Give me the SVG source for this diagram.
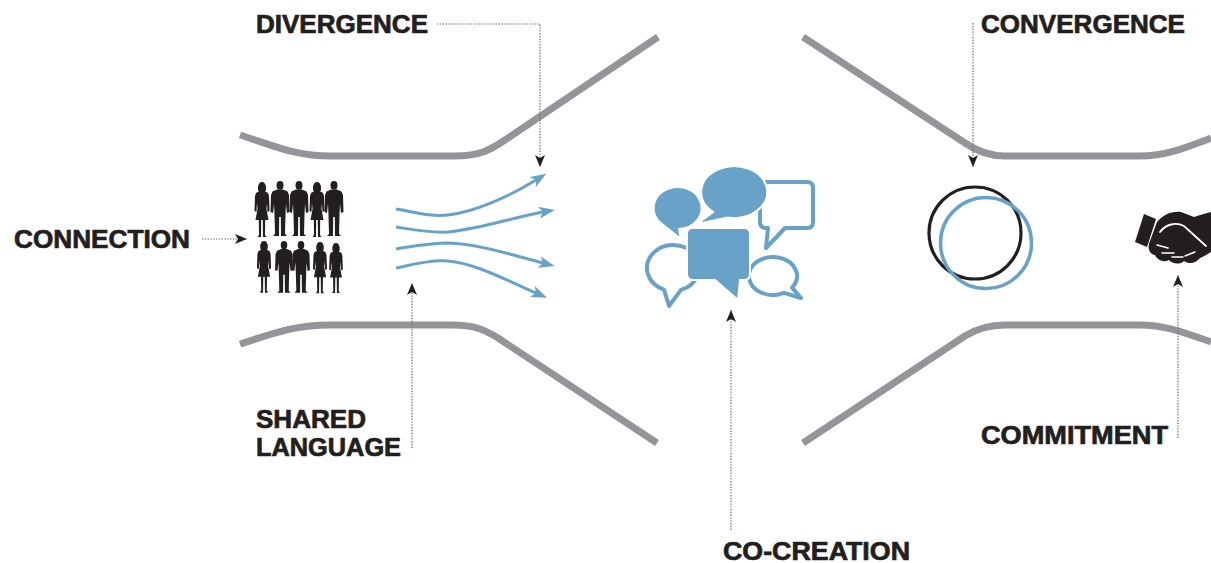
<svg xmlns="http://www.w3.org/2000/svg" width="1211" height="563" viewBox="0 0 1211 563" xmlns:xlink="http://www.w3.org/1999/xlink">
<style>
.funnel{fill:none;stroke:#939598;stroke-width:7;stroke-linejoin:round}
.lbl{font-family:"Liberation Sans",Arial,sans-serif;font-weight:bold;font-size:25px;fill:#231f20;stroke:#231f20;stroke-width:0.7}
.dot{fill:none;stroke:#6d6e71;stroke-width:1.2;stroke-dasharray:1.4 1.4}
.flow{fill:none;stroke:#69a2c9;stroke-width:3}
.bfill{fill:#69a2c9;stroke:#fff;stroke-width:2}
.bline{fill:#fff;stroke:#69a2c9;stroke-width:4;stroke-linejoin:round}
.ppl{fill:#231f20}
</style>
<defs>
<marker id="ah" viewBox="0 0 12 10" refX="12" refY="5" markerWidth="12" markerHeight="10" orient="auto" markerUnits="userSpaceOnUse">
<path d="M0,0 L12,5 L0,10 L3,5 Z" fill="#231f20"/>
</marker>
<marker id="bh" viewBox="0 0 16 12" refX="4" refY="6" markerWidth="16" markerHeight="12" orient="auto" markerUnits="userSpaceOnUse">
<path d="M0,0 L16,6 L0,12 L4,6 Z" fill="#69a2c9"/>
</marker>
<g id="man">
<ellipse cx="0" cy="4.4" rx="3.5" ry="4.4"/>
<path d="M-3,8.5 L3,8.5 L7.5,10.5 L9,14 L9.5,31 L7,32 L6,23 L5.5,34 L5,53 L7,55 L1,55 L0.8,36 L-0.8,36 L-1,55 L-7,55 L-5,53 L-5.5,34 L-6,23 L-7,32 L-9.5,31 L-9,14 L-7.5,10.5 Z"/>
</g>
<g id="woman">
<ellipse cx="0" cy="4.6" rx="3.5" ry="4.5"/>
<path d="M-3.5,3 C-4.5,7 -4,10 -2,10 L2,10 C4,10 4.5,7 3.5,3 Z"/>
<path d="M-2.5,9 L2.5,9 L6,11 L7,14 L7.5,29 L5.5,30 L5,21 L4.5,27 L6.5,38 L3.2,38 L3,53 L4.5,55 L1,55 L0.8,38 L-0.8,38 L-1,55 L-4.5,55 L-3,53 L-3.2,38 L-6.5,38 L-4.5,27 L-5,21 L-5.5,30 L-7.5,29 L-7,14 L-6,11 Z"/>
</g>
</defs>
<rect width="1211" height="563" fill="#fff"/>

<g id="funnel">
<path class="funnel" d="M240,135 C275,146 295,156 330,156 L455,156 C480,156 490,150 505,140 L658,37"/>
<path class="funnel" d="M240,344 C275,333 295,325 330,325 L452,325 C475,325 485,330 498,338 L657,443"/>
<path class="funnel" d="M803,37 L965,143 C978,152 990,156 1005,156 L1140,156 C1165,156 1185,148 1211,138"/>
<path class="funnel" d="M803,443 L965,336 C978,328 990,325 1005,325 L1140,325 C1165,325 1185,333 1211,342"/>
</g>

<g id="people" class="ppl">
<use xlink:href="#woman" href="#woman" x="262" y="182"/>
<use xlink:href="#man" href="#man" x="280" y="181"/>
<use xlink:href="#man" href="#man" x="299" y="181"/>
<use xlink:href="#woman" href="#woman" x="317" y="182"/>
<use xlink:href="#man" href="#man" x="334" y="181"/>
<use xlink:href="#woman" href="#woman" transform="translate(264,241) scale(0.94)"/>
<use xlink:href="#man" href="#man" transform="translate(284,241) scale(0.94)"/>
<use xlink:href="#man" href="#man" transform="translate(301,241) scale(0.94)"/>
<use xlink:href="#woman" href="#woman" transform="translate(320,242) scale(0.93)"/>
<use xlink:href="#woman" href="#woman" transform="translate(336,243) scale(0.91)"/>
</g>

<g id="shared-language-arrows">
<path class="flow" marker-end="url(#bh)" d="M396,209 C415,212 430,217 448,215 C475,212 510,196 536,180"/>
<path class="flow" marker-end="url(#bh)" d="M396,227 C415,230 430,233 448,232 C480,229 515,217 543,212"/>
<path class="flow" marker-end="url(#bh)" d="M396,249 C415,246 430,243 448,243 C480,244 515,256 543,263"/>
<path class="flow" marker-end="url(#bh)" d="M396,268 C415,264 430,260 448,261 C475,263 510,282 536,293"/>
</g>

<g id="speech-bubbles">
<path class="bline" d="M681,289.9 A26,23 0 1 0 664,289.6 L669,306 Z"/>
<path class="bline" d="M792,287.6 A24,19 0 1 0 784,292.9 L801,298 Z"/>
<path class="bline" d="M766,182 H807 Q813,182 813,188 V222 Q813,228 807,228 H785 L766,248 L768,228 H766 Q760,228 760,222 V188 Q760,182 766,182 Z"/>
<path class="bfill" d="M662,224 A24,21 0 1 1 679,229 L681,239 Z"/>
<path class="bfill" d="M728,217.6 A33,26 0 1 0 713,212 L697,224 Z"/>
<path class="bfill" d="M693,228 H744 Q750,228 750,234 V274 Q750,280 744,280 H740 L738,300 L715,280 H693 Q687,280 687,274 V234 Q687,228 693,228 Z"/>
</g>

<g id="circles">
<circle cx="975" cy="233" r="46" fill="none" stroke="#231f20" stroke-width="3.2"/>
<circle cx="986" cy="243" r="45.5" fill="none" stroke="#69a2c9" stroke-width="3.5"/>
</g>

<g id="handshake">
<path fill="#231f20" d="M1144,214 L1156,219 L1147,247 L1135,242 Z"/>
<path fill="#231f20" d="M1157,222 C1163,215 1171,211 1181,212 L1194,217 C1200,215 1206,213 1211,212 L1211,252 C1206,255 1202,257 1199,259 C1195,264 1188,264 1184,261 C1180,265 1172,264 1169,260 C1164,263 1157,260 1155,255 C1149,254 1147,247 1150,241 Z"/>
<path fill="none" stroke="#fff" stroke-width="1.8" stroke-linecap="round" d="M1160,232 C1166,224 1176,222 1184,226 L1206,246"/>
<path fill="none" stroke="#fff" stroke-width="1.5" stroke-linecap="round" d="M1157,245 L1168,248 M1162,253 L1174,253 M1172,257 L1183,257 M1185,256 L1195,252"/>
</g>

<g id="connectors">
<path class="dot" marker-end="url(#ah)" d="M437,24 H540 V167"/>
<path class="dot" marker-end="url(#ah)" d="M973,23 V167"/>
<path class="dot" marker-end="url(#ah)" d="M202,239 H247"/>
<path class="dot" marker-end="url(#ah)" d="M412,448 V283"/>
<path class="dot" marker-end="url(#ah)" d="M731,530 V310"/>
<path class="dot" marker-end="url(#ah)" d="M1178,438 V275"/>
</g>

<g id="label-divergence"><text class="lbl" x="256" y="33" textLength="172" lengthAdjust="spacingAndGlyphs">DIVERGENCE</text></g>
<g id="label-convergence"><text class="lbl" x="981" y="33" textLength="204" lengthAdjust="spacingAndGlyphs">CONVERGENCE</text></g>
<g id="label-connection"><text class="lbl" x="14" y="248" textLength="176" lengthAdjust="spacingAndGlyphs">CONNECTION</text></g>
<g id="label-shared-language">
<text class="lbl" x="256" y="428" textLength="110" lengthAdjust="spacingAndGlyphs">SHARED</text>
<text class="lbl" x="256" y="456" textLength="145" lengthAdjust="spacingAndGlyphs">LANGUAGE</text>
</g>
<g id="label-commitment"><text class="lbl" x="981" y="444" textLength="187" lengthAdjust="spacingAndGlyphs">COMMITMENT</text></g>
<g id="label-co-creation"><text class="lbl" x="723" y="560" textLength="187" lengthAdjust="spacingAndGlyphs">CO-CREATION</text></g>
</svg>
